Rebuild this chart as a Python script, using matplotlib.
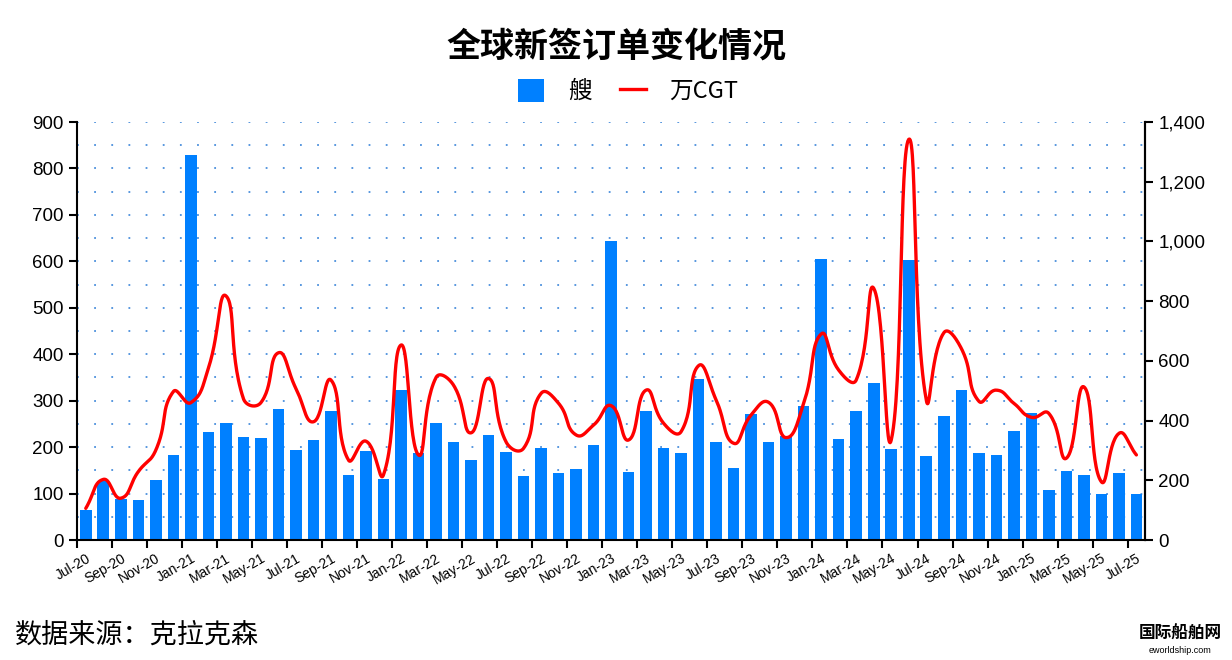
import numpy as np
import pandas as pd
import matplotlib
matplotlib.use('Agg')
import matplotlib.pyplot as plt
from matplotlib.patches import Patch
from matplotlib.lines import Line2D
from matplotlib.ticker import MultipleLocator, FuncFormatter

plt.rcParams['font.family'] = ['Liberation Sans', 'Noto Sans CJK SC', 'DejaVu Sans']
CJK = ['Noto Sans CJK SC', 'DejaVu Sans']

# monthly categories Jul-20 .. Jul-25
months = list(pd.date_range('2020-07-01', periods=61, freq='MS').strftime('%b-%y'))

# number of ships (left axis)
ships = [65, 126, 88, 86, 129, 184, 829, 233, 251, 222, 220, 283, 194, 215, 278, 140, 192, 132,
         323, 188, 251, 210, 172, 227, 189, 138, 199, 145, 153, 204,
         644, 146, 278, 199, 188, 347, 212, 155, 271, 210, 225, 288,
         606, 218, 278, 339, 195, 602, 181, 267, 323, 188, 184, 235,
         274, 108, 149, 139, 100, 144, 99]

# 10k CGT (right axis)
cgt = [106, 203, 140, 229, 301, 497, 460, 575, 818, 474, 460, 627, 508, 396, 536, 268, 331, 218,
       653, 285, 544, 519, 359, 541, 329, 307, 491, 458, 352, 385,
       450, 335, 502, 391, 363, 584, 469, 324, 419, 461, 343, 458,
       690, 569, 536, 843, 335, 1342, 469, 694, 642, 465, 502, 458,
       411, 424, 274, 513, 195, 357, 285]

BLUE = '#0080ff'
RED = '#ff0000'


def smooth_px(P, smooth=0.5, n=30):
    # bezier smoothing with control arms scaled by neighbouring segment lengths (pixel space)
    P = np.asarray(P, float)
    m = len(P)
    cp_in = P.copy()
    cp_out = P.copy()
    for i in range(m):
        prev = P[max(i - 1, 0)]
        nxt = P[min(i + 1, m - 1)]
        v = nxt - prev
        d0 = np.hypot(*(P[i] - prev))
        d1 = np.hypot(*(nxt - P[i]))
        r = d1 / (d0 + d1) if d0 + d1 > 0 else 0.5
        cp_out[i] = P[i] + v * smooth * r
        cp_in[i] = P[i] - v * smooth * (1 - r)
    t = np.linspace(0, 1, n, endpoint=False)[:, None]
    out = []
    for i in range(m - 1):
        p1, c1, c2, p2 = P[i], cp_out[i], cp_in[i + 1], P[i + 1]
        out.append((1 - t) ** 3 * p1 + 3 * (1 - t) ** 2 * t * c1 + 3 * (1 - t) * t ** 2 * c2 + t ** 3 * p2)
    out.append(P[-1][None, :])
    return np.vstack(out)


x = np.arange(len(months))

fig = plt.figure(figsize=(12.32, 6.6), dpi=100)
ax = fig.add_axes([0.0625, 0.1818, 0.867, 0.6333])
ax2 = ax.twinx()

ax.bar(x, ships, width=0.66, color=BLUE, zorder=2)

ax.set_xlim(-0.5, len(months) - 0.5)
ax.set_ylim(0, 900)
ax2.set_xlim(-0.5, len(months) - 0.5)
ax2.set_ylim(0, 1400)

pts = ax2.transData.transform(np.column_stack([x, cgt]))
curve = ax2.transData.inverted().transform(smooth_px(pts))
ax2.plot(curve[:, 0], curve[:, 1], color=RED, linewidth=2.4, solid_capstyle='round')

ax.yaxis.set_major_locator(MultipleLocator(100))
ax.yaxis.set_minor_locator(MultipleLocator(50))
ax2.yaxis.set_major_locator(MultipleLocator(200))
ax2.yaxis.set_major_formatter(FuncFormatter(lambda v, p: f'{int(v):,}'))

ax.set_axisbelow(True)
ax.grid(axis='y', which='both', color='#4a8fdc', linestyle=(0, (1, 8.5)), linewidth=1.3)

# labels at category centres, tick marks at category boundaries
ax.set_xticks(x[::2])
ax.set_xticklabels(months[::2], rotation=30, ha='right', rotation_mode='anchor', fontsize=10)
ax.set_xticks(x[::2] - 0.5, minor=True)
ax.tick_params(axis='x', which='major', length=0, pad=8)
ax.tick_params(axis='x', which='minor', length=6, width=1.5, direction='out')
ax.tick_params(axis='y', which='major', length=6, width=1.5, labelsize=13.5)
ax.tick_params(axis='y', which='minor', length=0)
ax2.tick_params(axis='y', length=6, width=1.5, labelsize=13.5)

for a in (ax, ax2):
    a.spines['top'].set_visible(False)
    for s in ('left', 'right', 'bottom'):
        a.spines[s].set_linewidth(1.5)
ax2.spines['left'].set_visible(False)
ax2.spines['bottom'].set_visible(False)

fig.text(0.5, 0.93, '全球新签订单变化情况', ha='center', va='center',
         fontsize=24.5, fontweight='bold', family=CJK)

handles = [Patch(facecolor=BLUE, edgecolor='none'),
           Line2D([0], [0], color=RED, linewidth=2.4)]
fig.legend(handles, ['艘', '万CGT'], loc='center', bbox_to_anchor=(0.51, 0.862), ncol=2,
           frameon=False, prop={'family': CJK, 'size': 17}, handlelength=1.1,
           handleheight=1.1, handletextpad=1.0, columnspacing=1.2)

fig.text(0.012, 0.037, '数据来源：克拉克森', ha='left', va='center', fontsize=19.5, family=CJK)
fig.text(0.958, 0.04, '国际船舶网', ha='center', va='center', fontsize=12,
         fontweight='bold', family=CJK)
fig.text(0.958, 0.015, 'eworldship.com', ha='center', va='center', fontsize=6.5)

fig.savefig('out.png', dpi=100)
